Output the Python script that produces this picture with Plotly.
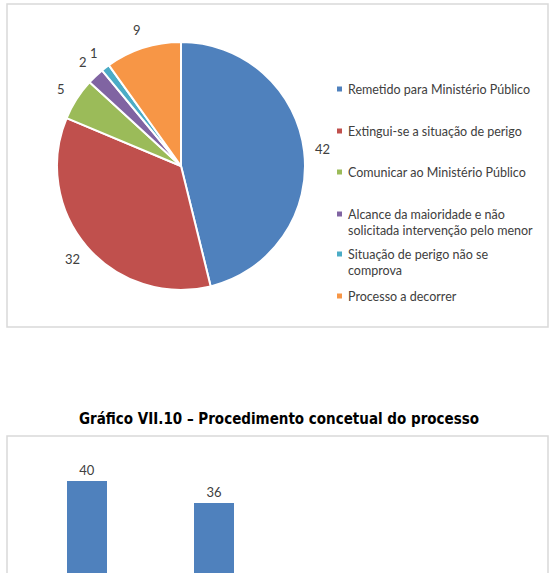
import math
import textwrap
import plotly.graph_objects as go

# ---------------- data ----------------
pie_labels = [
    "Remetido para Ministério Público",
    "Extingui-se a situação de perigo",
    "Comunicar ao Ministério Público",
    "Alcance da maioridade e não solicitada intervenção pelo menor",
    "Situação de perigo não se comprova",
    "Processo a decorrer",
]
pie_values = [42, 32, 5, 2, 1, 9]
pie_colors = ["#4F81BD", "#C0504D", "#9BBB59", "#8064A2", "#4BACC6", "#F79646"]

bar_positions = [0, 1]
bar_values = [40, 36]
bar_color = "#4F81BD"

title_text = "Gráfico VII.10 – Procedimento concetual do processo"

# ---------------- geometry helpers ----------------
W, H = 555, 573


def px_x(x):
    return x / W


def px_y(y):
    return 1 - y / H


TEXT_FONT = "Lato, 'Open Sans', sans-serif"
TEXT_COLOR = "#404040"

# pie placement (pixels)
PIE_CX, PIE_CY, PIE_R = 181, 166, 124
LABEL_R = 143

fig = go.Figure()

# Pie chart
fig.add_trace(go.Pie(
    labels=pie_labels,
    values=pie_values,
    sort=False,
    direction="clockwise",
    rotation=0,
    marker=dict(colors=pie_colors, line=dict(color="white", width=2)),
    textinfo="none",
    domain=dict(x=[px_x(PIE_CX - PIE_R), px_x(PIE_CX + PIE_R)],
                y=[px_y(PIE_CY + PIE_R), px_y(PIE_CY - PIE_R)]),
    showlegend=False,
    hoverinfo="label+value",
))

# Bar chart (partially visible)
fig.add_trace(go.Bar(
    x=bar_positions,
    y=bar_values,
    width=40 / 127,
    marker=dict(color=bar_color, line=dict(width=0)),
    text=bar_values,
    textposition="outside",
    textfont=dict(family=TEXT_FONT, size=13, color=TEXT_COLOR),
    cliponaxis=True,
    xaxis="x",
    yaxis="y",
    showlegend=False,
))

shapes = []
annotations = []

# Pie data labels outside the slices, at each slice's mid angle
total = sum(pie_values)
cum = 0
for v in pie_values:
    mid = (cum + v / 2) / total * 2 * math.pi
    cum += v
    lx = PIE_CX + LABEL_R * math.sin(mid)
    ly = PIE_CY - LABEL_R * math.cos(mid)
    annotations.append(dict(xref="paper", yref="paper", x=px_x(lx), y=px_y(ly),
                            xanchor="center", yanchor="middle", text=str(v),
                            showarrow=False,
                            font=dict(family=TEXT_FONT, size=13, color=TEXT_COLOR)))

# Chart boxes
shapes.append(dict(type="rect", xref="paper", yref="paper",
                   x0=px_x(7), x1=px_x(548), y0=px_y(327), y1=px_y(4),
                   line=dict(color="#d9d9d9", width=1.5), fillcolor="rgba(0,0,0,0)",
                   layer="below"))
shapes.append(dict(type="rect", xref="paper", yref="paper",
                   x0=px_x(7), x1=px_x(548), y0=px_y(600), y1=px_y(436),
                   line=dict(color="#d9d9d9", width=1.5), fillcolor="rgba(0,0,0,0)",
                   layer="below"))

# Manual legend for the pie
legend_line_y = [89, 131, 172, 214, 254, 296]
for lab, col, ly in zip(pie_labels, pie_colors, legend_line_y):
    shapes.append(dict(type="rect", xref="paper", yref="paper",
                       x0=px_x(337), x1=px_x(342), y0=px_y(ly + 2.5), y1=px_y(ly - 2.5),
                       line=dict(width=0), fillcolor=col))
    wrapped = "<br>".join(textwrap.wrap(lab, width=33))
    annotations.append(dict(xref="paper", yref="paper", x=px_x(346), y=px_y(ly - 9),
                            xanchor="left", yanchor="top", align="left",
                            text=wrapped, showarrow=False,
                            font=dict(family=TEXT_FONT, size=12.5, color=TEXT_COLOR)))

# Title of the second chart
annotations.append(dict(xref="paper", yref="paper", x=px_x(278.5), y=px_y(419),
                        xanchor="center", yanchor="middle",
                        text="<b>" + title_text + "</b>", showarrow=False,
                        font=dict(family="'Liberation Sans Narrow', 'DejaVu Sans Condensed', Roboto, sans-serif",
                                  size=15, color="#000000")))

# y scale of the bar chart: 5.5 px per unit, zero at pixel 701
y_top_px = 445
y_min = (701 - H) / 5.5
y_max = (701 - y_top_px) / 5.5

fig.update_layout(
    width=W, height=H,
    margin=dict(l=0, r=0, t=0, b=0),
    paper_bgcolor="white",
    plot_bgcolor="rgba(0,0,0,0)",
    showlegend=False,
    xaxis=dict(domain=[px_x(23.5), px_x(531.5)], range=[-0.5, 3.5],
               visible=False, fixedrange=True),
    yaxis=dict(domain=[0, px_y(y_top_px)], range=[y_min, y_max],
               visible=False, fixedrange=True),
    shapes=shapes,
    annotations=annotations,
)

fig.write_html("out.html")
